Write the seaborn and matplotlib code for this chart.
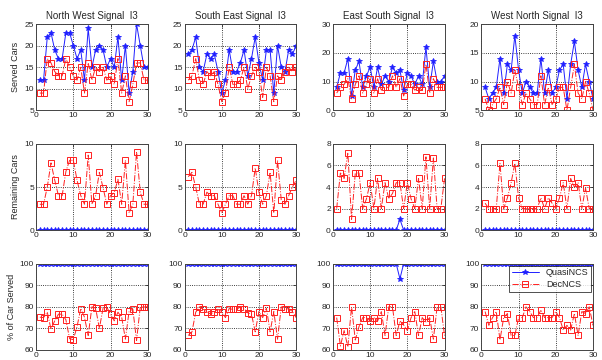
import numpy as np
import pandas as pd
import matplotlib
matplotlib.use('Agg')
import matplotlib.pyplot as plt
import seaborn as sns

# --- Data ---
steps = list(range(1, 31))

titles = ['North West Signal  I3', 'South East Signal  I3',
          'East South Signal  I3', 'West North Signal  I3']
row_labels = ['Served Cars', 'Remaining Cars', '% of Car Served']

# served cars
nw_served_quasi = [12, 12, 22, 23, 19, 17, 17, 23, 23, 20, 17, 19, 12, 24, 15,
                   19, 20, 19, 15, 17, 15, 22, 12, 20, 9, 14, 25, 20, 15, 15]
nw_served_dec = [9, 9, 17, 16, 14, 13, 13, 17, 15, 13, 12, 15, 9, 16, 12,
                 15, 14, 15, 12, 13, 11, 17, 9, 13, 7, 11, 16, 16, 12, 12]
se_served_quasi = [18, 19, 22, 15, 14, 18, 17, 18, 14, 9, 12, 19, 14, 14, 16,
                   19, 13, 17, 22, 16, 12, 19, 19, 9, 20, 15, 14, 19, 18, 20]
se_served_dec = [12, 13, 17, 12, 11, 14, 13, 14, 11, 7, 9, 15, 11, 11, 12,
                 15, 10, 13, 15, 14, 8, 15, 13, 7, 13, 12, 14, 15, 14, 15]
es_served_quasi = [8, 13, 13, 18, 5, 14, 17, 8, 12, 15, 8, 15, 9, 12, 10,
                   15, 13, 14, 7, 13, 12, 9, 12, 9, 22, 8, 17, 10, 10, 12]
es_served_dec = [6, 8, 9, 11, 4, 9, 12, 6, 9, 11, 6, 11, 7, 8, 8,
                 12, 8, 11, 5, 9, 9, 7, 8, 7, 16, 6, 11, 8, 8, 8]
wn_served_quasi = [9, 7, 8, 9, 14, 8, 13, 12, 18, 12, 8, 10, 9, 8, 8,
                   14, 8, 12, 8, 9, 12, 13, 7, 13, 17, 12, 9, 13, 10, 7]
wn_served_dec = [7, 5, 6, 7, 9, 6, 10, 8, 12, 9, 6, 8, 7, 6, 6,
                 11, 6, 9, 6, 7, 9, 9, 5, 9, 13, 8, 7, 10, 8, 5]

# remaining cars
nw_remain_quasi = [0] * 30
nw_remain_dec = [3, 3, 5, 7.8, 5.8, 4, 4, 6.8, 8.1, 8.1, 5.8, 4, 3, 8.7, 3,
                 4, 6.7, 4.9, 3, 4, 4.35, 5.9, 3, 8.1, 2, 3, 9.1, 4.4, 3, 3]
se_remain_quasi = [0] * 30
se_remain_dec = [6.2, 6.7, 5, 3, 3, 4.4, 4, 4, 3, 2, 3, 4, 4, 3, 3,
                 4, 3, 4, 7.2, 4.4, 3, 4, 6.7, 2, 8.1, 3.5, 3, 4, 5, 5.8]
es_remain_quasi = [0] * 17 + [1] + [0] * 12
es_remain_dec = [2, 5.3, 4.8, 7.2, 1, 5.3, 5.3, 2, 2.9, 4.4, 2, 4.8, 2, 4.4, 2.9,
                 3.4, 4.4, 4.4, 2, 4.4, 2.9, 2, 4.8, 2, 6.8, 2, 6.7, 2, 2, 4.8]
wn_remain_quasi = [0] * 30
wn_remain_dec = [2.5, 2, 2, 2, 6.2, 2, 3, 4.4, 6.2, 3, 2, 2, 2, 2, 2,
                 3, 2, 3, 2.5, 2, 3, 4.4, 2, 4.8, 4, 4.4, 2, 3.9, 2, 2]

# percent of cars served
nw_pct_quasi = [100] * 30
nw_pct_dec = [75.2, 75, 77.5, 69.6, 73.5, 76.6, 76.6, 74, 65.2, 64.8, 70.8, 79.2,
              75.2, 66.7, 80, 79.4, 70, 79.4, 79.8, 76.6, 73.5, 77.5, 75.2, 65,
              78, 78.9, 64.4, 80, 80, 80]
se_pct_quasi = [100] * 30
se_pct_dec = [66.7, 68.4, 77.5, 80, 78.8, 77.8, 76.6, 77.8, 78.8, 77.8, 75, 79.2,
              78.8, 78.8, 80, 79.2, 77.2, 76.6, 68.4, 77.8, 75, 79.4, 68.4, 77.8,
              65, 80, 78.8, 79.2, 77.8, 75]
es_pct_quasi = [100] * 17 + [93] + [100] * 12
es_pct_dec = [75, 61.8, 69, 61.4, 80, 64.6, 70.8, 75, 75, 73.4, 75, 73.4,
              77.8, 66.7, 80, 80, 66.7, 73.4, 71.6, 69, 75, 77.8, 66.7, 75,
              73, 75, 65, 80, 80, 66.7]
wn_pct_quasi = [100] * 30
wn_pct_dec = [77.8, 71.4, 75, 77.8, 64.6, 75, 76.9, 66.7, 66.7, 75, 75, 80,
              77.8, 75, 75, 78.6, 75, 75, 75, 77.8, 75, 69.2, 71.4, 69.2,
              76.9, 66.7, 77.8, 76.9, 80, 71.4]

quasi = [[nw_served_quasi, se_served_quasi, es_served_quasi, wn_served_quasi],
         [nw_remain_quasi, se_remain_quasi, es_remain_quasi, wn_remain_quasi],
         [nw_pct_quasi, se_pct_quasi, es_pct_quasi, wn_pct_quasi]]
dec = [[nw_served_dec, se_served_dec, es_served_dec, wn_served_dec],
       [nw_remain_dec, se_remain_dec, es_remain_dec, wn_remain_dec],
       [nw_pct_dec, se_pct_dec, es_pct_dec, wn_pct_dec]]

# axis limits / ticks per panel
ylims = [[(5, 25), (5, 25), (0, 30), (5, 20)],
         [(0, 10), (0, 10), (0, 8), (0, 8)],
         [(60, 100)] * 4]
ysteps = [[5, 5, 10, 5], [5, 5, 2, 2], [10] * 4]

# --- Plot ---
sns.set_style('white')
plt.rcParams['font.family'] = ['Liberation Sans', 'DejaVu Sans']

fig, axes = plt.subplots(3, 4, figsize=(6.02, 3.6), dpi=100)
fig.subplots_adjust(left=0.06, right=0.985, top=0.933, bottom=0.028,
                    wspace=0.33, hspace=0.39)

for r in range(3):
    for c in range(4):
        ax = axes[r, c]
        sns.lineplot(x=steps, y=quasi[r][c], ax=ax, color='#2020ff',
                     linewidth=0.7, marker='*', markersize=4,
                     markeredgecolor='#2020ff', markeredgewidth=0.6,
                     label='QuasiNCS')
        sns.lineplot(x=steps, y=dec[r][c], ax=ax, color='#ff2020',
                     linewidth=0.7, linestyle='-.', marker='s', markersize=4.5,
                     markerfacecolor='none', markeredgecolor='#ff2020',
                     markeredgewidth=0.7, label='DecNCS')

        lo, hi = ylims[r][c]
        ax.set_xlim(0, 30)
        ax.set_ylim(lo, hi)
        ax.set_xticks([0, 10, 20, 30])
        ax.set_yticks(np.arange(lo, hi + 0.01, ysteps[r][c]))
        ax.tick_params(direction='in', length=2.5, width=0.6, labelsize=6,
                       pad=1.5, top=True, right=True)
        ax.grid(True, color='black', linestyle=':', linewidth=0.6)
        for s in ax.spines.values():
            s.set_color('#444444')
            s.set_linewidth(0.7)

        if r == 2 and c == 3:
            leg = ax.legend(loc='upper right', fontsize=6.5, frameon=True,
                            fancybox=False, borderpad=0.3, handlelength=3,
                            labelspacing=0.3, borderaxespad=0.2)
            leg.get_frame().set_edgecolor('black')
            leg.get_frame().set_linewidth(0.6)
        else:
            ax.get_legend().remove()

        if r == 0:
            ax.set_title(titles[c], fontsize=7, pad=4)
        if c == 0:
            ax.set_ylabel(row_labels[r], fontsize=6.5, labelpad=3)

plt.savefig('out.png', dpi=100)
